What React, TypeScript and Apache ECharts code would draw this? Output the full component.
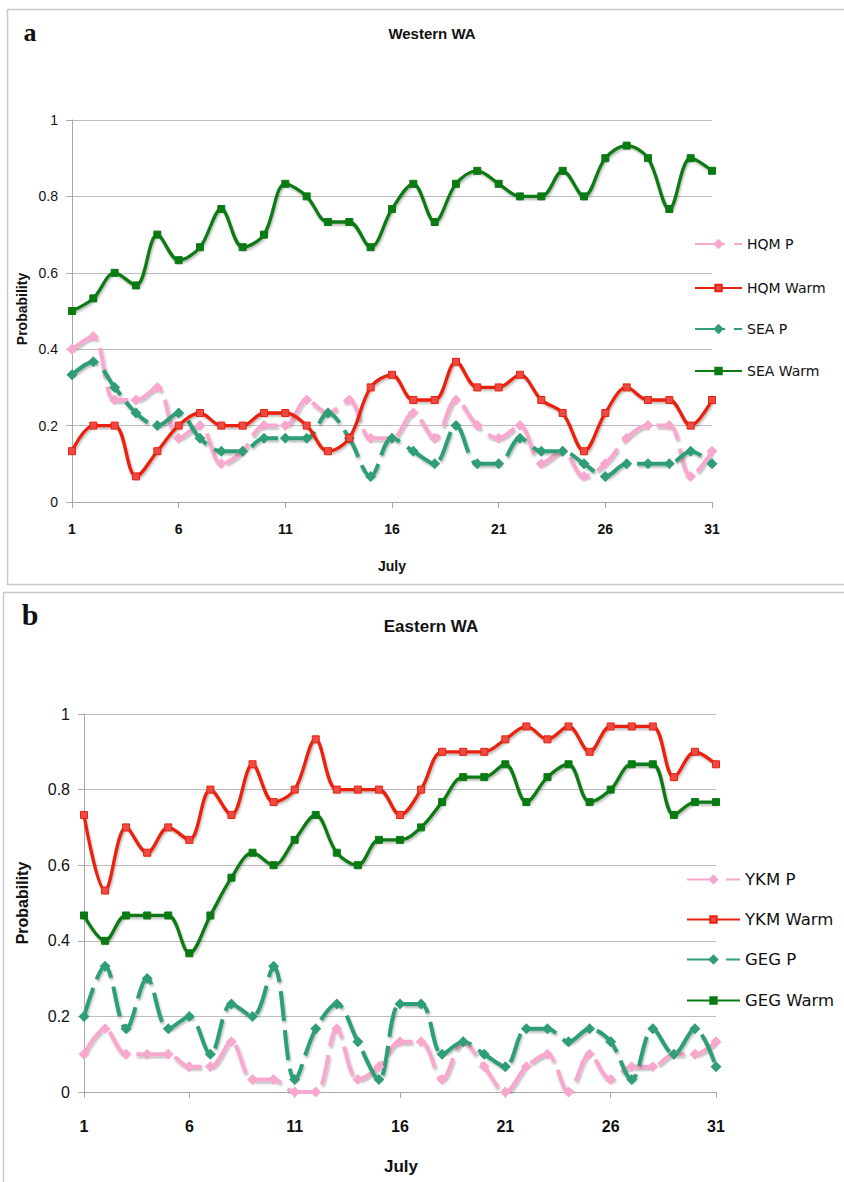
import React, { useEffect, useRef } from "react";
import * as echarts from "echarts";

const days = ["1","2","3","4","5","6","7","8","9","10","11","12","13","14","15","16","17","18","19","20","21","22","23","24","25","26","27","28","29","30","31"];
const yTicks = ["0", "0.2", "0.4", "0.6", "0.8", "1"];

// Panel a: Western WA
const hqmP = [0.4,0.433,0.267,0.267,0.3,0.167,0.2,0.1,0.133,0.2,0.2,0.267,0.233,0.267,0.167,0.167,0.233,0.167,0.267,0.2,0.167,0.2,0.1,0.133,0.067,0.1,0.167,0.2,0.2,0.067,0.133];
const hqmWarm = [0.133,0.2,0.2,0.067,0.133,0.2,0.233,0.2,0.2,0.233,0.233,0.2,0.133,0.167,0.3,0.333,0.267,0.267,0.367,0.3,0.3,0.333,0.267,0.233,0.133,0.233,0.3,0.267,0.267,0.2,0.267];
const seaP = [0.333,0.367,0.3,0.233,0.2,0.233,0.167,0.133,0.133,0.167,0.167,0.167,0.233,0.167,0.067,0.167,0.133,0.1,0.2,0.1,0.1,0.167,0.133,0.133,0.1,0.067,0.1,0.1,0.1,0.133,0.1];
const seaWarm = [0.5,0.533,0.6,0.567,0.7,0.633,0.667,0.767,0.667,0.7,0.833,0.8,0.733,0.733,0.667,0.767,0.833,0.733,0.833,0.867,0.833,0.8,0.8,0.867,0.8,0.9,0.933,0.9,0.767,0.9,0.867];

// Panel b: Eastern WA
const ykmP = [0.1,0.167,0.1,0.1,0.1,0.067,0.067,0.133,0.033,0.033,0,0,0.167,0.033,0.067,0.133,0.133,0.033,0.133,0.067,0,0.067,0.1,0,0.1,0.033,0.067,0.067,0.1,0.1,0.133];
const ykmWarm = [0.733,0.533,0.7,0.633,0.7,0.667,0.8,0.733,0.867,0.767,0.8,0.933,0.8,0.8,0.8,0.733,0.8,0.9,0.9,0.9,0.933,0.967,0.933,0.967,0.9,0.967,0.967,0.967,0.833,0.9,0.867];
const gegP = [0.2,0.333,0.167,0.3,0.167,0.2,0.1,0.233,0.2,0.333,0.033,0.167,0.233,0.133,0.033,0.233,0.233,0.1,0.133,0.1,0.067,0.167,0.167,0.133,0.167,0.133,0.033,0.167,0.1,0.167,0.067];
const gegWarm = [0.467,0.4,0.467,0.467,0.467,0.367,0.467,0.567,0.633,0.6,0.667,0.733,0.633,0.6,0.667,0.667,0.7,0.767,0.833,0.833,0.867,0.767,0.833,0.867,0.767,0.8,0.867,0.867,0.733,0.767,0.767];

const legendA = ["HQM P", "HQM Warm", "SEA P", "SEA Warm"];
const legendB = ["YKM P", "YKM Warm", "GEG P", "GEG Warm"];

const PINK = "#F8A8CF";
const RED = "#E8200F";
const RED_MARK = "#EE4A44";
const TEAL = "#2F9E76";
const DKGREEN = "#0A7A12";
const GRIDC = "#BDBDBD";
const AXISC = "#A8A8A8";
const SANS = '"Liberation Sans", Arial, sans-serif';
const SERIF = '"Liberation Serif", "DejaVu Serif", serif';
const LEG_FONT = '"DejaVu Sans", sans-serif';

function lineSeries(name: string, data: number[], idx: number, kind: "P" | "W", color: string, markColor: string) {
  const isP = kind === "P";
  return {
    name,
    type: "line",
    xAxisIndex: idx,
    yAxisIndex: idx,
    data,
    smooth: 0.35,
    symbol: isP ? "diamond" : "rect",
    symbolSize: isP ? 11 : 7,
    showSymbol: true,
    lineStyle: {
      color,
      width: isP ? 4 : 3.3,
      type: isP ? [30, 9] : "solid",
      shadowColor: "rgba(0,0,0,0.28)",
      shadowBlur: 2,
      shadowOffsetX: 1,
      shadowOffsetY: 2,
    },
    itemStyle: {
      color: markColor,
      borderColor: color,
      borderWidth: isP ? 0 : 1,
    },
    emphasis: { disabled: true },
    z: isP ? 2 : 3,
  };
}

function xAxis(idx: number, fs: number, margin: number) {
  return {
    type: "category",
    gridIndex: idx,
    data: days,
    boundaryGap: false,
    axisLine: { show: true, lineStyle: { color: AXISC, width: 1 } },
    axisTick: { show: true, interval: 4, length: 6, lineStyle: { color: AXISC } },
    axisLabel: { interval: 4, fontSize: fs, fontWeight: "bold", fontFamily: SANS, color: "#111", margin },
    splitLine: { show: false },
  };
}

function yAxis(idx: number, fs: number) {
  return {
    type: "value",
    gridIndex: idx,
    min: 0,
    max: 1,
    interval: 0.2,
    axisLine: { show: true, lineStyle: { color: AXISC, width: 1 } },
    axisTick: { show: true, length: 6, lineStyle: { color: AXISC } },
    axisLabel: {
      fontSize: fs,
      fontFamily: SANS,
      color: "#111",
      margin: 14,
      formatter: (v: number) => yTicks[Math.round(v * 5)],
    },
    splitLine: { show: true, lineStyle: { color: GRIDC, width: 1 } },
  };
}

function legendItem(name: string, left: number, top: number, width: number, isP: boolean, fs: number) {
  return {
    orient: "vertical",
    left,
    top,
    padding: 0,
    itemWidth: width,
    itemHeight: isP ? 13 : 8,
    data: [name],
    textStyle: { fontSize: fs, fontFamily: LEG_FONT, color: "#111" },
    selectedMode: false,
  };
}

function txt(text: string, x: number, y: number, size: number, family: string, rotation = 0) {
  return {
    type: "text",
    x,
    y,
    rotation,
    silent: true,
    style: {
      text,
      fontSize: size,
      fontWeight: "bold",
      fontFamily: family,
      fill: "#111",
      textAlign: "center",
      textVerticalAlign: "middle",
    },
  };
}

export default function App() {
  const ref = useRef<HTMLDivElement>(null);
  useEffect(() => {
    document.body.style.margin = "0";
    if (!ref.current) return;
    const chart = echarts.init(ref.current, null, { renderer: "svg" });
    const topsA = [237, 281, 322, 364];
    const topsB = [871, 911, 951, 992];
    const option = {
      animation: false,
      backgroundColor: "#ffffff",
      grid: [
        { left: 72, top: 120, width: 640, height: 382 },
        { left: 84, top: 714, width: 632, height: 378 },
      ],
      xAxis: [xAxis(0, 14, 20), xAxis(1, 16, 26)],
      yAxis: [yAxis(0, 14), yAxis(1, 16)],
      legend: [
        ...legendA.map((n, i) => legendItem(n, 694, topsA[i], 47, i % 2 === 0, 14)),
        ...legendB.map((n, i) => legendItem(n, 686, topsB[i], 53, i % 2 === 0, 16.5)),
      ],
      graphic: [
        { type: "rect", silent: true, shape: { x: 7.5, y: 9.5, width: 850, height: 575 }, style: { fill: "none", stroke: "#C8C8C8", lineWidth: 1.5 } },
        { type: "rect", silent: true, shape: { x: 3.5, y: 592.5, width: 850, height: 620 }, style: { fill: "none", stroke: "#C8C8C8", lineWidth: 1.5 } },
        txt("a", 30, 32, 26, SERIF),
        txt("b", 30, 614, 30, SERIF),
        txt("Western WA", 432, 33, 15, SANS),
        txt("Eastern WA", 431, 626, 17, SANS),
        txt("Probability", 22, 309, 14, SANS, Math.PI / 2),
        txt("Probability", 22, 903, 16, SANS, Math.PI / 2),
        txt("July", 392, 566, 14, SANS),
        txt("July", 401, 1166, 17, SANS),
      ],
      series: [
        lineSeries("HQM P", hqmP, 0, "P", PINK, PINK),
        lineSeries("HQM Warm", hqmWarm, 0, "W", RED, RED_MARK),
        lineSeries("SEA P", seaP, 0, "P", TEAL, TEAL),
        lineSeries("SEA Warm", seaWarm, 0, "W", DKGREEN, DKGREEN),
        lineSeries("YKM P", ykmP, 1, "P", PINK, PINK),
        lineSeries("YKM Warm", ykmWarm, 1, "W", RED, RED_MARK),
        lineSeries("GEG P", gegP, 1, "P", TEAL, TEAL),
        lineSeries("GEG Warm", gegWarm, 1, "W", DKGREEN, DKGREEN),
      ],
    };
    chart.setOption(option as any);
    return () => chart.dispose();
  }, []);
  return <div ref={ref} style={{ width: 844, height: 1182 }} />;
}
